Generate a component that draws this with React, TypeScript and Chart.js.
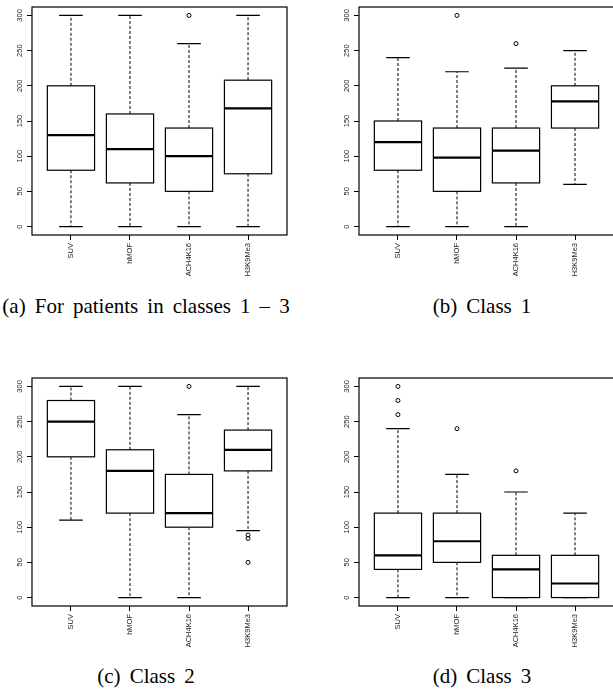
import React, { useEffect, useRef } from "react";
import { Chart, registerables } from "chart.js";

Chart.register(...registerables);

// ---- shared axis data ----
const categories = ["SUV", "hMOF", "ACH4K16", "H3K9Me3"];
const yTickValues = [0, 50, 100, 150, 200, 250, 300];

// ---- (a) For patients in classes 1 – 3 ----
const allLow = [0, 0, 0, 0];
const allQ1 = [80, 62, 50, 75];
const allMedian = [130, 110, 100, 168];
const allQ3 = [200, 160, 140, 208];
const allHigh = [300, 300, 260, 300];
const allOutliers = [[], [], [300], []];

// ---- (b) Class 1 ----
const c1Low = [0, 0, 0, 60];
const c1Q1 = [80, 50, 62, 140];
const c1Median = [120, 98, 108, 178];
const c1Q3 = [150, 140, 140, 200];
const c1High = [240, 220, 225, 250];
const c1Outliers = [[], [300], [260], []];

// ---- (c) Class 2 ----
const c2Low = [110, 0, 0, 95];
const c2Q1 = [200, 120, 100, 180];
const c2Median = [250, 180, 120, 210];
const c2Q3 = [280, 210, 175, 238];
const c2High = [300, 300, 260, 300];
const c2Outliers = [[], [], [300], [89, 84, 50]];

// ---- (d) Class 3 ----
const c3Low = [0, 0, 0, 0];
const c3Q1 = [40, 50, 0, 0];
const c3Median = [60, 80, 40, 20];
const c3Q3 = [120, 120, 60, 60];
const c3High = [240, 175, 150, 120];
const c3Outliers = [[260, 280, 300], [240], [180], []];

type PanelProps = {
  low: number[];
  q1: number[];
  median: number[];
  q3: number[];
  high: number[];
  outliers: number[][];
  left: number;
  top: number;
};

const CANVAS_W = 306;
const CANVAS_H = 290;

function BoxPanel(props: PanelProps) {
  const ref = useRef<HTMLCanvasElement | null>(null);
  useEffect(() => {
    const canvas = ref.current;
    if (!canvas) return;
    const { low, q1, median, q3, high, outliers } = props;
    const points: { x: number; y: number }[] = [];
    outliers.forEach((arr, i) => arr.forEach((v) => points.push({ x: i + 1, y: v })));

    const boxPlugin = {
      id: "boxes",
      beforeDatasetsDraw(chart: any) {
        const ctx = chart.ctx;
        const xs = chart.scales.x;
        const ys = chart.scales.y;
        const area = chart.chartArea;
        ctx.save();
        ctx.strokeStyle = "#000";
        for (let i = 0; i < categories.length; i++) {
          const c = xs.getPixelForValue(i + 1);
          const bl = xs.getPixelForValue(i + 1 - 0.4);
          const br = xs.getPixelForValue(i + 1 + 0.4);
          const sl = xs.getPixelForValue(i + 1 - 0.2);
          const sr = xs.getPixelForValue(i + 1 + 0.2);
          const yLow = ys.getPixelForValue(low[i]);
          const yQ1 = ys.getPixelForValue(q1[i]);
          const yMed = ys.getPixelForValue(median[i]);
          const yQ3 = ys.getPixelForValue(q3[i]);
          const yHigh = ys.getPixelForValue(high[i]);
          // whiskers (dashed)
          ctx.lineWidth = 1;
          ctx.setLineDash([3, 2]);
          ctx.beginPath();
          ctx.moveTo(c, yQ3);
          ctx.lineTo(c, yHigh);
          ctx.moveTo(c, yQ1);
          ctx.lineTo(c, yLow);
          ctx.stroke();
          ctx.setLineDash([]);
          // staples
          ctx.lineWidth = 1.2;
          ctx.beginPath();
          ctx.moveTo(sl, yHigh);
          ctx.lineTo(sr, yHigh);
          ctx.moveTo(sl, yLow);
          ctx.lineTo(sr, yLow);
          ctx.stroke();
          // box
          ctx.lineWidth = 1.2;
          ctx.strokeRect(bl, yQ3, br - bl, yQ1 - yQ3);
          // median
          ctx.lineWidth = 2.2;
          ctx.beginPath();
          ctx.moveTo(bl, yMed);
          ctx.lineTo(br, yMed);
          ctx.stroke();
        }
        // frame
        ctx.lineWidth = 1.2;
        ctx.strokeRect(area.left, area.top, area.right - area.left, area.bottom - area.top);
        ctx.restore();
      },
    };

    const tickFont = { family: "'Liberation Sans', Arial, sans-serif", size: 7.5 };

    const chart = new Chart(canvas, {
      type: "scatter",
      data: {
        datasets: [
          {
            data: points,
            pointStyle: "circle",
            pointRadius: 2,
            pointHoverRadius: 2,
            borderColor: "#000",
            backgroundColor: "rgba(0,0,0,0)",
            borderWidth: 1,
          },
        ],
      },
      options: {
        responsive: false,
        animation: false,
        events: [],
        layout: { padding: { left: 0, top: 7, right: 19, bottom: 0 } },
        plugins: { legend: { display: false }, tooltip: { enabled: false } },
        scales: {
          x: {
            type: "linear",
            position: "bottom",
            min: 0.34,
            max: 4.66,
            afterBuildTicks: (s: any) => {
              s.ticks = categories.map((_, i) => ({ value: i + 1 }));
            },
            afterFit: (s: any) => {
              s.height = CANVAS_H - 235;
            },
            grid: { display: true, drawOnChartArea: false, drawTicks: true, tickLength: 5, color: "#000", lineWidth: 1 },
            border: { display: false },
            ticks: {
              autoSkip: false,
              minRotation: 90,
              maxRotation: 90,
              padding: 3,
              color: "#222",
              font: tickFont,
              callback: (v: any) => categories[Math.round(Number(v)) - 1] ?? "",
            },
          },
          y: {
            type: "linear",
            min: -12,
            max: 312,
            afterBuildTicks: (s: any) => {
              s.ticks = yTickValues.map((v) => ({ value: v }));
            },
            afterFit: (s: any) => {
              s.width = 32;
            },
            grid: { display: true, drawOnChartArea: false, drawTicks: true, tickLength: 5, color: "#000", lineWidth: 1 },
            border: { display: false },
            ticks: {
              minRotation: 90,
              maxRotation: 90,
              crossAlign: "center",
              padding: 1,
              color: "#222",
              font: tickFont,
              callback: (v: any) => String(v),
            },
          },
        },
      } as any,
      plugins: [boxPlugin],
    });
    return () => chart.destroy();
  }, []);

  return (
    <canvas
      ref={ref}
      width={CANVAS_W}
      height={CANVAS_H}
      style={{ position: "absolute", left: props.left, top: props.top, width: CANVAS_W, height: CANVAS_H }}
    />
  );
}

function Caption({ text, cx, cy }: { text: string; cx: number; cy: number }) {
  return (
    <div
      style={{
        position: "absolute",
        left: cx - 200,
        width: 400,
        top: cy - 13,
        height: 26,
        lineHeight: "26px",
        textAlign: "center",
        fontFamily: "'Liberation Serif', 'Times New Roman', serif",
        fontSize: 21,
        wordSpacing: "3.8px",
        color: "#000",
        whiteSpace: "nowrap",
      }}
    >
      {text}
    </div>
  );
}

export default function App() {
  return (
    <div
      style={{
        position: "absolute",
        left: 0,
        top: 0,
        width: 613,
        height: 690,
        overflow: "hidden",
        background: "#fff",
      }}
    >
      <BoxPanel low={allLow} q1={allQ1} median={allMedian} q3={allQ3} high={allHigh} outliers={allOutliers} left={0} top={0} />
      <BoxPanel low={c1Low} q1={c1Q1} median={c1Median} q3={c1Q3} high={c1High} outliers={c1Outliers} left={327} top={0} />
      <BoxPanel low={c2Low} q1={c2Q1} median={c2Median} q3={c2Q3} high={c2High} outliers={c2Outliers} left={0} top={371} />
      <BoxPanel low={c3Low} q1={c3Q1} median={c3Median} q3={c3Q3} high={c3High} outliers={c3Outliers} left={327} top={371} />
      <Caption text="(a) For patients in classes 1 – 3" cx={146} cy={306} />
      <Caption text="(b) Class 1" cx={482} cy={306} />
      <Caption text="(c) Class 2" cx={146} cy={676} />
      <Caption text="(d) Class 3" cx={482} cy={676} />
    </div>
  );
}
